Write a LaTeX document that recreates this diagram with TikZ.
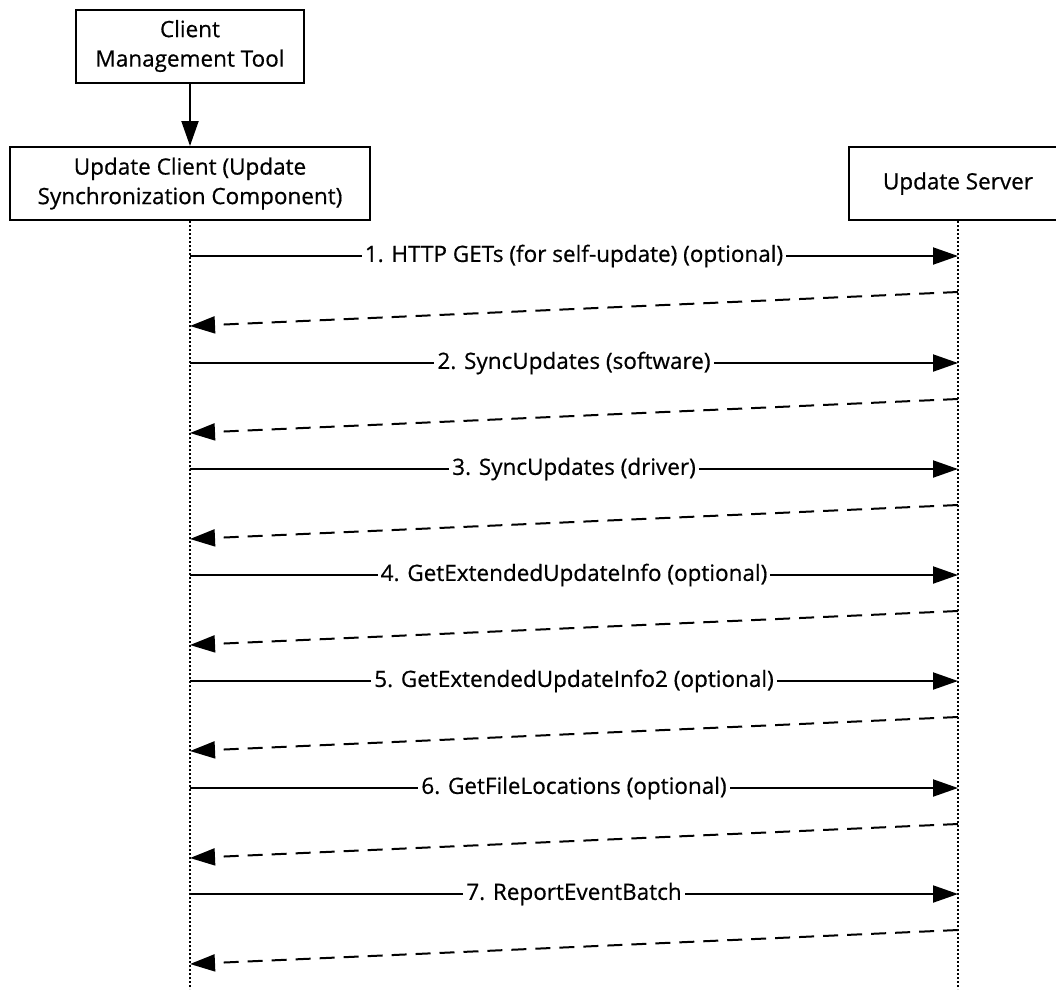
\documentclass[tikz,border=0pt]{standalone}
\usepackage{fontspec}
\setmainfont{Open Sans}[BoldFont=Open Sans, BoldFeatures={FakeBold=0.6}]
\usetikzlibrary{arrows.meta}
\usetikzlibrary{positioning}
\tikzset{
	box/.style={draw, line width=2pt, align=center, minimum height=73pt, inner sep=0pt},
	call/.style={line width=2pt, -{Triangle[length=25pt,width=17pt]}},
	reply/.style={line width=2pt, dash pattern=on 15pt off 9pt, -{Triangle[length=25pt,width=17pt]}},
	lifeline/.style={line width=2pt, dash pattern=on 2pt off 2pt},
	lbl/.style={fill=white, inner xsep=3pt, inner ysep=2pt}
}
\newcommand{\exchange}[3] % number, y in px, label
{
	% request from client to server
	\coordinate (c#1) at (190,#2);
	\coordinate (s#1) at (958,#2);
	\draw[call] (c#1) -- node[lbl] {#3} (s#1);
	% dashed reply, sloping back down to the client
	\coordinate (r#1) at (958,#2+36);
	\coordinate (b#1) at (190,#2+70);
	\draw[reply] (r#1) -- (b#1);
}
\begin{document}
\begin{tikzpicture}[x=1pt, y=-1pt, font=\fontsize{22.5}{29.5}\selectfont\bfseries]
	% page: 1056 x 989
	\useasboundingbox (0,0) rectangle (1056,989);
	% actors
	\node[box, minimum width=228pt] (cmt) at (190,46) {Client\\Management Tool};
	\node[box, minimum width=360pt] (client) at (190,183.5) {Update Client (Update\\Synchronization Component)};
	\node[box, minimum width=218pt] (server) at (958,183.5) {Update Server};
	\draw[call] (cmt) -- (client);
	% lifelines
	\coordinate (cend) at (190,989);
	\coordinate (send) at (958,989);
	\draw[lifeline] (client.south) -- (cend);
	\draw[lifeline] (server.south) -- (send);
	% messages
	\exchange{1}{256}{1. HTTP GETs (for self-update) (optional)};
	\exchange{2}{363}{2. SyncUpdates (software)};
	\exchange{3}{469}{3. SyncUpdates (driver)};
	\exchange{4}{575}{4. GetExtendedUpdateInfo (optional)};
	\exchange{5}{681}{5. GetExtendedUpdateInfo2 (optional)};
	\exchange{6}{788}{6. GetFileLocations (optional)};
	\exchange{7}{894}{7. ReportEventBatch};
\end{tikzpicture}
\end{document}
